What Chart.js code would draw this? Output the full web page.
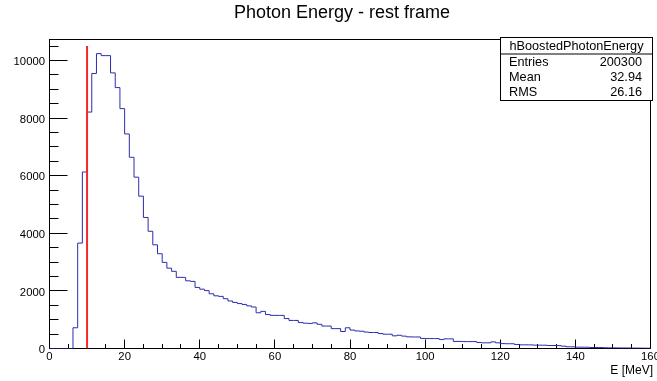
<!DOCTYPE html>
<html>
<head>
<meta charset="utf-8">
<script src="https://cdn.jsdelivr.net/npm/chart.js@4.4.1/dist/chart.umd.min.js"></script>
<style>
  html, body { margin: 0; padding: 0; background: #fff; }
  #wrap { width: 657px; height: 381px; }
</style>
</head>
<body>
<div id="wrap"><canvas id="photonChart" width="657" height="381"></canvas></div>
<script>
// hBoostedPhotonEnergy: 128 bins of 1.25 MeV from 0 to 160
const binLow = 0;
const binWidth = 1.25;
const binCounts = [
  0, 0, 0, 0, 0, 720, 3660, 6130, 8210, 9550,
  10240, 10170, 10170, 9570, 9060, 8330, 7450, 6640, 5950, 5290,
  4550, 4070, 3600, 3290, 2990, 2790, 2680, 2470, 2470, 2350,
  2330, 2120, 2060, 2010, 1900, 1830, 1810, 1730, 1650, 1600,
  1560, 1530, 1480, 1440, 1240, 1290, 1180, 1150, 1150, 1150,
  1040, 975, 975, 900, 880, 870, 890, 840, 780, 780,
  690, 690, 590, 720, 640, 610, 600, 570, 555, 555,
  520, 497, 497, 440, 460, 430, 405, 400, 400, 350,
  345, 345, 345, 310, 335, 335, 245, 245, 240, 240,
  240, 208, 197, 197, 230, 197, 170, 165, 165, 140,
  127, 127, 125, 116, 116, 115, 104, 104, 100, 81,
  60, 58, 46, 46, 45, 35, 35, 33, 25, 23,
  22, 20, 18, 17, 15, 14, 12, 10
];

const xRange = [0, 160];
const yMax = 10730;            // ROOT: 1.05 * highest bin
const xTicks = [0, 20, 40, 60, 80, 100, 120, 140, 160];
const yTicks = [0, 2000, 4000, 6000, 8000, 10000];
const xMinorStep = 5;
const yMinorStep = 500;

// red marker line at 10 MeV
const markerEnergy = 10;
const markerTop = 10500;

const chartTitle = 'Photon Energy - rest frame';
const xTitle = 'E [MeV]';
const statsTitle = 'hBoostedPhotonEnergy';
const statsNames = ['Entries', 'Mean', 'RMS'];
const statsValues = ['200300', '32.94', '26.16'];

const FONT = '"Liberation Sans", Arial, Helvetica, sans-serif';

// step outline: one point on each low edge, then close at the upper end
const histPoints = binCounts.map((c, i) => ({ x: binLow + i * binWidth, y: c }));
histPoints.push({ x: binLow + binCounts.length * binWidth, y: binCounts[binCounts.length - 1] });
histPoints.push({ x: binLow + binCounts.length * binWidth, y: 0 });

const markerPoints = [{ x: markerEnergy, y: 0 }, { x: markerEnergy, y: markerTop }];

function crisp(v) { return Math.floor(v) + 0.5; }

const rootAxes = {
  id: 'rootAxes',
  beforeDatasetsDraw(chart) {
    const { ctx, chartArea: a, scales: { x, y } } = chart;
    ctx.save();
    ctx.strokeStyle = '#000';
    ctx.lineWidth = 1;
    ctx.strokeRect(a.left, a.top, a.right - a.left, a.bottom - a.top);

    ctx.beginPath();
    // x ticks point up from the bottom
    for (let v = xRange[0]; v <= xRange[1]; v += xMinorStep) {
      const px = crisp(x.getPixelForValue(v));
      const len = xTicks.includes(v) ? 9 : 4.5;
      ctx.moveTo(px, a.bottom);
      ctx.lineTo(px, a.bottom - len);
    }
    // y ticks point right from the left side
    for (let v = 0; v < yMax; v += yMinorStep) {
      const py = crisp(y.getPixelForValue(v));
      const len = yTicks.includes(v) ? 18 : 9;
      ctx.moveTo(a.left, py);
      ctx.lineTo(a.left + len, py);
    }
    ctx.stroke();

    ctx.fillStyle = '#000';
    ctx.font = '11.3px ' + FONT;
    ctx.textBaseline = 'middle';
    ctx.textAlign = 'center';
    xTicks.forEach(v => ctx.fillText(String(v), x.getPixelForValue(v), a.bottom + 8));
    ctx.textAlign = 'right';
    yTicks.forEach(v => ctx.fillText(String(v), a.left - 4.5, y.getPixelForValue(v) + 1.5));
    ctx.font = '12px ' + FONT;
    ctx.fillText(xTitle, 653, a.bottom + 22.5);

    ctx.font = '18px ' + FONT;
    ctx.textAlign = 'center';
    ctx.fillText(chartTitle, 342, 13.5);
    ctx.restore();
  },
  afterDraw(chart) {
    const { ctx } = chart;
    const bx = 500.5, by = 37.5, bw = 152, bh = 63;
    ctx.save();
    ctx.fillStyle = '#fff';
    ctx.fillRect(bx, by, bw, bh);
    ctx.strokeStyle = '#000';
    ctx.lineWidth = 1;
    ctx.strokeRect(bx, by, bw, bh);
    ctx.beginPath();
    ctx.moveTo(bx, by + 16.5);
    ctx.lineTo(bx + bw, by + 16.5);
    ctx.stroke();

    ctx.fillStyle = '#000';
    ctx.font = '12.7px ' + FONT;
    ctx.textBaseline = 'middle';
    ctx.textAlign = 'center';
    ctx.fillText(statsTitle, bx + bw / 2, by + 9);
    statsNames.forEach((name, i) => {
      const ty = by + 25 + i * 15.2;
      ctx.textAlign = 'left';
      ctx.fillText(name, bx + 8.5, ty);
      ctx.textAlign = 'right';
      ctx.fillText(statsValues[i], bx + bw - 10.5, ty);
    });
    ctx.restore();
  }
};

const ctx = document.getElementById('photonChart').getContext('2d');
const photonChart = new Chart(ctx, {
  type: 'scatter',
  data: {
    datasets: [
      {
        label: 'marker',
        data: markerPoints,
        showLine: true,
        borderColor: 'rgb(245, 40, 40)',
        borderWidth: 2,
        pointRadius: 0,
        order: 0
      },
      {
        label: statsTitle,
        data: histPoints,
        showLine: true,
        stepped: 'before',
        borderColor: '#2c2cae',
        borderWidth: 1,
        pointRadius: 0,
        order: 1
      }
    ]
  },
  options: {
    responsive: false,
    animation: false,
    devicePixelRatio: 1,
    layout: { padding: { left: 49.5, right: 6.5, bottom: 32.5, top: 39.5 } },
    scales: {
      x: { type: 'linear', min: xRange[0], max: xRange[1], display: false },
      y: { type: 'linear', min: 0, max: yMax, display: false }
    },
    plugins: {
      legend: { display: false },
      tooltip: { enabled: false },
      title: { display: false }
    }
  },
  plugins: [rootAxes]
});
</script>
</body>
</html>
